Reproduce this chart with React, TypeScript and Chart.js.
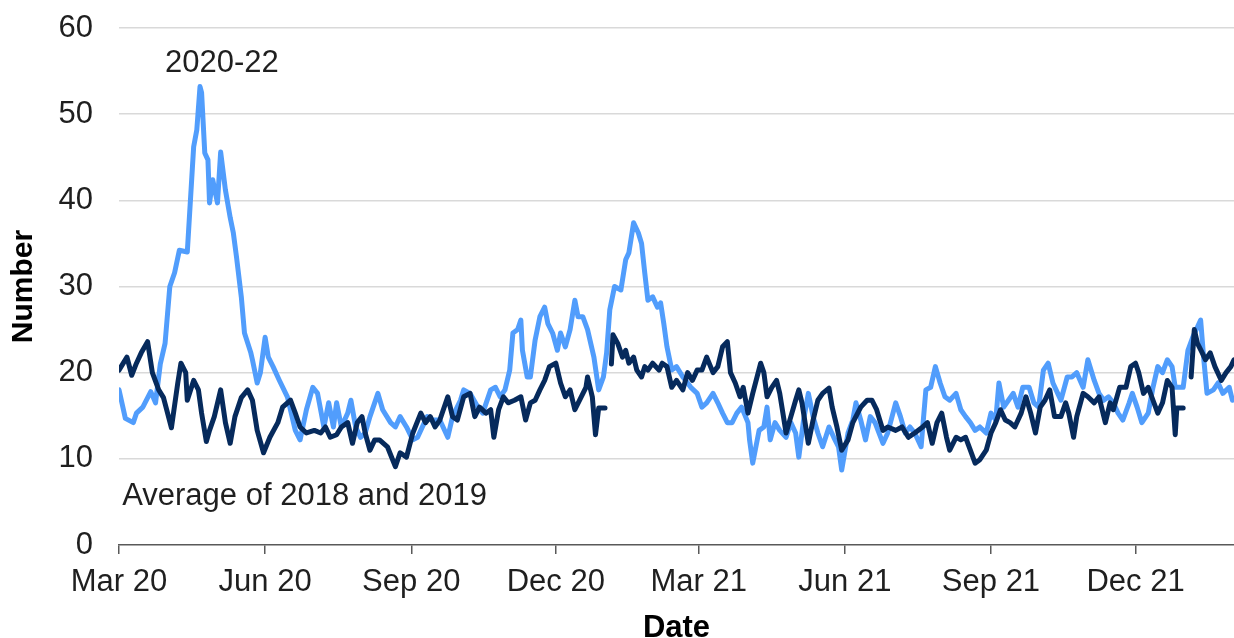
import React, { useEffect, useRef } from 'react';
import { Chart, registerables } from 'chart.js';

Chart.register(...registerables);

// Days counted from 1 March 2020
const tickDays = [0, 92, 184, 275, 365, 457, 549, 640];
const tickLabels = ['Mar 20', 'Jun 20', 'Sep 20', 'Dec 20', 'Mar 21', 'Jun 21', 'Sep 21', 'Dec 21'];
const yTicks = [0, 10, 20, 30, 40, 50, 60];
const seriesLabels = ['2020-22', 'Average of 2018 and 2019'];
// label anchors [day, value] (left / baseline)
const labelAnchors = [[29, 54.9], [2, 4.6]];

const lightDays = [0, 4, 9, 11, 15, 20, 23, 26, 29, 32, 35, 38, 43, 47, 49, 51, 52, 54, 56, 57, 59, 62, 64, 67, 70, 72, 74, 77, 79, 83, 84, 87, 89, 92, 94, 97, 101, 106, 111, 114, 118, 122, 125, 129, 132, 135, 137, 140, 144, 146, 149, 152, 155, 158, 163, 166, 171, 174, 177, 181, 185, 188, 194, 197, 202, 207, 210, 215, 217, 221, 226, 229, 234, 237, 240, 243, 246, 248, 251, 253, 254, 257, 259, 262, 265, 268, 270, 273, 276, 278, 281, 284, 287, 289, 292, 295, 299, 302, 305, 307, 309, 312, 316, 319, 321, 324, 327, 329, 331, 333, 336, 339, 341, 343, 345, 348, 351, 355, 358, 360, 364, 367, 370, 374, 377, 380, 383, 386, 389, 392, 396, 397, 399, 403, 406, 408, 410, 413, 416, 420, 423, 426, 428, 431, 434, 437, 440, 443, 447, 450, 453, 455, 459, 462, 464, 467, 470, 473, 476, 481, 484, 489, 492, 495, 498, 501, 505, 508, 511, 514, 517, 520, 523, 527, 530, 533, 536, 539, 542, 546, 549, 552, 554, 557, 560, 563, 566, 569, 573, 576, 579, 582, 585, 588, 591, 593, 597, 600, 603, 607, 610, 614, 617, 620, 623, 626, 629, 632, 636, 638, 641, 644, 648, 651, 654, 657, 660, 663, 665, 670, 673, 676, 679, 681, 683, 685, 689, 692, 695, 699, 701];
const lightValues = [18.0, 14.7, 14.2, 15.3, 16, 17.8, 16.5, 21, 23.4, 30, 31.6, 34.2, 34, 46.2, 48.2, 53.2, 52.5, 45.5, 44.7, 39.7, 42.4, 39.7, 45.6, 41.2, 38, 36.2, 33.4, 28.8, 24.6, 22.3, 21.5, 18.8, 20, 24.1, 21.8, 20.7, 19.1, 17.2, 13.3, 12.2, 15.7, 18.3, 17.6, 13.7, 16.5, 13.7, 16.5, 13.7, 15.3, 16.8, 13.7, 12.5, 13, 14.9, 17.6, 15.7, 14.2, 13.7, 14.9, 13.7, 12.2, 12.5, 14.9, 14.5, 14.5, 12.5, 14.9, 16.8, 18, 17.6, 16, 15.3, 18, 18.3, 17.2, 18, 20.3, 24.6, 25, 26.1, 22.6, 19.5, 19.5, 23.8, 26.5, 27.6, 25.7, 24.6, 22.6, 24.6, 23, 25, 28.4, 26.5, 26.5, 25, 21.8, 18, 19.5, 22.3, 27.3, 30, 29.6, 33.1, 33.9, 37.4, 36.2, 35, 31.6, 28.4, 28.8, 27.6, 28.1, 25.7, 23, 20.3, 20.7, 19.5, 18.8, 18.3, 17.6, 16, 16.5, 17.6, 16.5, 15.3, 14.2, 14.2, 15.3, 16, 14.2, 12.2, 9.5, 13.3, 13.7, 16, 12.2, 14.2, 13.3, 12.5, 14.2, 13, 10.2, 14.5, 17.6, 14.9, 13, 11.4, 13.7, 12.5, 11.4, 8.7, 13, 14.5, 16.5, 14.5, 12.2, 14.9, 14.2, 11.8, 13, 16.5, 14.9, 13, 13.7, 13, 11.4, 18, 18.3, 20.7, 18.8, 17.2, 16.8, 17.6, 15.7, 14.9, 14.2, 13.3, 13.7, 13, 15.3, 14.5, 18.8, 16, 16.8, 17.6, 16, 18.3, 18.3, 16.5, 16, 20.3, 21.1, 18.8, 17.6, 16.8, 19.5, 19.5, 20, 18.3, 21.5, 19.1, 17.6, 16.8, 17.2, 16.5, 15.3, 14.5, 16.5, 17.6, 16, 14.2, 15.3, 18.3, 20.7, 20, 21.5, 20.7, 18.3, 18.3, 22.6, 24.1, 25.3, 26.1, 21.5, 17.6, 18, 18.8, 17.6, 18.3, 16.8];

const darkDays = [0, 5, 8, 11, 14, 18, 21, 25, 28, 30, 33, 37, 39, 42, 43, 47, 50, 52, 55, 57, 60, 64, 67, 70, 73, 77, 81, 84, 87, 91, 95, 100, 103, 108, 111, 114, 118, 123, 127, 130, 133, 137, 140, 144, 147, 150, 153, 155, 158, 161, 164, 169, 174, 177, 181, 185, 190, 193, 196, 199, 202, 207, 210, 213, 217, 221, 224, 227, 231, 234, 236, 239, 242, 245, 249, 253, 256, 259, 262, 265, 268, 271, 275, 278, 281, 284, 287, 290, 294, 295, 298, 300, 302, 306, 308, 310, 311, 314, 317, 319, 321, 324, 326, 329, 331, 333, 336, 340, 342, 345, 348, 351, 355, 358, 361, 364, 367, 370, 374, 377, 380, 383, 385, 388, 391, 393, 396, 399, 404, 406, 408, 411, 414, 416, 420, 423, 426, 428, 430, 434, 437, 440, 443, 447, 449, 452, 455, 459, 462, 467, 471, 474, 477, 481, 484, 489, 493, 497, 501, 506, 509, 512, 515, 518, 521, 523, 527, 530, 533, 536, 539, 542, 546, 549, 552, 555, 558, 561, 564, 568, 571, 574, 577, 580, 583, 586, 589, 593, 596, 598, 601, 603, 607, 610, 614, 617, 621, 624, 626, 630, 634, 637, 640, 642, 645, 648, 651, 654, 657, 660, 663, 665, 666, 670, 672, 675, 677, 679, 682, 684, 687, 690, 694, 697, 700, 702];
const darkValues = [20.3, 21.8, 19.7, 21.1, 22.3, 23.6, 20, 18, 17.1, 15.7, 13.6, 18.8, 21.1, 20, 16.8, 19.1, 18, 15.3, 12, 13.3, 14.9, 18, 14.2, 11.8, 14.9, 17.1, 18, 16.8, 13.3, 10.7, 12.5, 14.2, 16, 16.8, 15.3, 13.7, 13, 13.3, 13, 13.7, 12.5, 12.8, 13.7, 14.2, 11.8, 14.2, 14.9, 13, 11, 12.2, 12.2, 11.4, 9.1, 10.7, 10.2, 13, 15.3, 14.2, 14.9, 13.7, 14.5, 17.2, 14.9, 14.5, 17.2, 17.6, 14.9, 16, 15.3, 15.7, 12.5, 15.7, 17.2, 16.5, 16.8, 17.2, 14.5, 16.5, 16.8, 18, 19.1, 20.7, 21.1, 18.8, 17.2, 18, 15.7, 16.8, 18.3, 19.5, 17.2, 12.8, 15.9, 15.9, null, 21, 24.4, 23.4, 21.8, 22.6, 21.1, 21.8, 20.3, 19.5, 20.7, 20.3, 21.1, 20.3, 21.1, 20.7, 18.3, 19.1, 18, 20, 19.1, 20.3, 20.3, 21.8, 20, 20.7, 23, 23.6, 20, 18.8, 17.2, 18.3, 15.3, 17.6, 21.1, 20, 17.2, 18.3, 19.1, 17.6, 13, 14.9, 16.8, 18, 16.5, 11.8, 14.5, 16.8, 17.6, 18.2, 16, 13.7, 11, 12.2, 14.2, 16, 16.8, 16.8, 15.7, 13.3, 13.7, 13.3, 13.7, 12.5, 13, 13.7, 14.2, 11.8, 14.2, 15.3, 12.5, 11, 12.5, 12.2, 12.5, 11, 9.5, 9.9, 11, 13, 14.2, 15.7, 14.5, 14.2, 13.7, 15.3, 17.2, 15.3, 13, 16, 16.8, 18, 14.9, 14.9, 16.5, 15.3, 12.5, 14.9, 17.6, 17.2, 16.5, 17.2, 14.2, 16.5, 15.7, 18.3, 18.3, 20.7, 21.1, 20, 17.6, 18.3, 16.8, 15.3, 16.5, 19.1, 18.3, 12.8, 15.9, 15.9, null, 19.5, 25, 23.4, 22.3, 21.5, 22.3, 20.7, 19.1, 20, 20.7, 21.5];

const FONT = '"Liberation Sans", Arial, Helvetica, sans-serif';
const LIGHT = '#519dfc';
const DARK = '#062a5c';
const TEXT = '#1f1f1f';

export default function App() {
  const ref = useRef<HTMLCanvasElement>(null);

  useEffect(() => {
    document.body.style.margin = '0';
    const canvas = ref.current;
    if (!canvas) return;

    const labelPlugin = {
      id: 'seriesLabels',
      afterDatasetsDraw(chart: any) {
        const { ctx, scales } = chart;
        const x = scales.x;
        const y = scales.y;
        ctx.save();
        ctx.font = `31px ${FONT}`;
        ctx.fillStyle = TEXT;
        ctx.textAlign = 'left';
        ctx.textBaseline = 'alphabetic';
        seriesLabels.forEach((t, i) => {
          ctx.fillText(t, x.getPixelForValue(labelAnchors[i][0]), y.getPixelForValue(labelAnchors[i][1]));
        });
        ctx.restore();
      },
    };

    const chart = new Chart(canvas, {
      type: 'line',
      data: {
        datasets: [
          {
            label: seriesLabels[1],
            data: darkDays.map((d, i) => ({ x: d, y: darkValues[i] })),
            borderColor: DARK,
            backgroundColor: DARK,
            borderWidth: 5,
            pointRadius: 0,
            tension: 0,
            spanGaps: false,
            borderJoinStyle: 'round',
            borderCapStyle: 'round',
          },
          {
            label: seriesLabels[0],
            data: lightDays.map((d, i) => ({ x: d, y: lightValues[i] })),
            borderColor: LIGHT,
            backgroundColor: LIGHT,
            borderWidth: 5,
            pointRadius: 0,
            tension: 0,
            borderJoinStyle: 'round',
            borderCapStyle: 'round',
          },
        ],
      } as any,
      options: {
        responsive: false,
        animation: false,
        layout: { padding: { top: 28, right: 0, left: 0, bottom: 0 } },
        plugins: { legend: { display: false }, tooltip: { enabled: false } },
        scales: {
          x: {
            type: 'linear',
            min: 0,
            max: 702,
            afterBuildTicks: (s: any) => {
              s.ticks = tickDays.map((v) => ({ value: v }));
            },
            afterFit: (s: any) => {
              s.height = 93;
              s.paddingLeft = 0;
              s.paddingRight = 0;
            },
            ticks: {
              autoSkip: false,
              maxRotation: 0,
              padding: 10,
              color: TEXT,
              font: { family: FONT, size: 31 },
              callback: (v: any) => {
                const i = tickDays.indexOf(Number(v));
                return i >= 0 ? tickLabels[i] : '';
              },
            },
            grid: {
              drawOnChartArea: false,
              drawTicks: true,
              tickLength: 9,
              color: '#595959',
              lineWidth: 1.5,
            },
            border: { display: true, color: '#595959', width: 1.5 },
            title: {
              display: true,
              text: 'Date',
              color: '#000',
              font: { family: FONT, size: 31, weight: 'bold', lineHeight: 0.6 },
              padding: 0,
            },
          },
          y: {
            min: 0,
            max: 60,
            afterBuildTicks: (s: any) => {
              s.ticks = yTicks.map((v) => ({ value: v }));
            },
            afterFit: (s: any) => {
              s.width = 119;
              s.paddingTop = 0;
              s.paddingBottom = 0;
            },
            ticks: {
              padding: 26,
              color: TEXT,
              font: { family: FONT, size: 31 },
            },
            grid: {
              drawTicks: false,
              lineWidth: 1.5,
              color: (c: any) => (c.tick && c.tick.value === 0 ? 'rgba(0,0,0,0)' : '#d9d9d9'),
            },
            border: { display: false },
            title: {
              display: true,
              text: 'Number',
              color: '#000',
              font: { family: FONT, size: 30, weight: 'bold', lineHeight: 1.2 },
              padding: { top: 6, bottom: 0 },
            },
          },
        },
      } as any,
      plugins: [labelPlugin],
    });

    return () => chart.destroy();
  }, []);

  return <canvas ref={ref} width={1234} height={638} style={{ display: 'block' }} />;
}
